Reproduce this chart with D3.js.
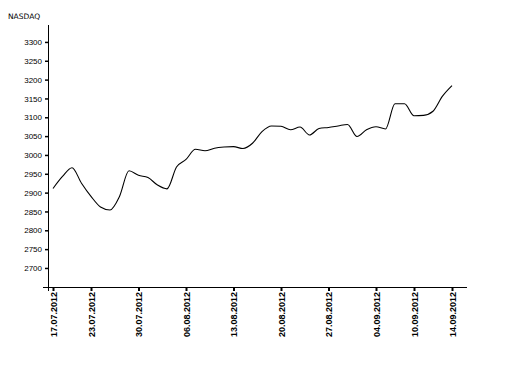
<!DOCTYPE html>
<html>
<head>
<meta charset="utf-8">
<script src="https://cdn.jsdelivr.net/npm/d3@7"></script>
<style>
    body { margin: 0; background: #fff; }
    svg { display: block; font-family: "DejaVu Sans", "Liberation Sans", sans-serif; }
    .axis text { font-size: 8px; fill: #000; }
    .x.axis text { font-family: "Liberation Sans", sans-serif; font-size: 9px; font-weight: bold; }
</style>
</head>
<body>
<script>
// trading days shown on the chart (x axis is by trading day, not calendar day)
const days = ["17.07.2012", "18.07.2012", "19.07.2012", "20.07.2012",
    "23.07.2012", "24.07.2012", "25.07.2012", "26.07.2012", "27.07.2012",
    "30.07.2012", "31.07.2012", "01.08.2012", "02.08.2012", "03.08.2012",
    "06.08.2012", "07.08.2012", "08.08.2012", "09.08.2012", "10.08.2012",
    "13.08.2012", "14.08.2012", "15.08.2012", "16.08.2012", "17.08.2012",
    "20.08.2012", "21.08.2012", "22.08.2012", "23.08.2012", "24.08.2012",
    "27.08.2012", "28.08.2012", "29.08.2012", "30.08.2012", "31.08.2012",
    "04.09.2012", "05.09.2012", "06.09.2012", "07.09.2012",
    "10.09.2012", "11.09.2012", "12.09.2012", "13.09.2012", "14.09.2012"];

const closes = [2911, 2943, 2966, 2925,
    2890, 2862, 2854, 2890, 2958,
    2946, 2940, 2920, 2910, 2968,
    2988, 3015, 3011, 3018, 3021,
    3022, 3017, 3031, 3062, 3077,
    3076, 3067, 3074, 3053, 3070,
    3073, 3077, 3081, 3049, 3067,
    3075, 3069, 3136, 3136,
    3104, 3105, 3116, 3156, 3184];

const xTickLabels = ["17.07.2012", "23.07.2012", "30.07.2012", "06.08.2012", "13.08.2012",
    "20.08.2012", "27.08.2012", "04.09.2012", "10.09.2012", "14.09.2012"];
const yTicks = [2700, 2750, 2800, 2850, 2900, 2950, 3000, 3050, 3100, 3150, 3200, 3250, 3300];

const width = 519, height = 371;

let svg = d3.select("body").append("svg")
    .attr("width", width)
    .attr("height", height);

let xScale = d3.scalePoint()
    .domain(days)
    .range([53, 452]);

let yScale = d3.scaleLinear()
    .domain([2650, 3350])
    .range([286.8, 23.1]);

// title top left
svg.append("text")
    .attr("x", 8)
    .attr("y", 19)
    .style("font-size", "7.5px")
    .text("NASDAQ");

// y axis, domain line drawn by hand so it can run past the x axis
let yAxis = svg.append("g")
    .attr("class", "y axis")
    .attr("transform", "translate(48,0)")
    .call(d3.axisLeft(yScale).tickValues(yTicks).tickFormat(d3.format("d")).tickSize(3).tickPadding(3));
yAxis.select(".domain").remove();
yAxis.selectAll(".tick line").attr("stroke", "#000").attr("stroke-width", 1.5);

svg.append("line")
    .attr("x1", 48.5).attr("x2", 48.5)
    .attr("y1", 25).attr("y2", 291)
    .attr("stroke", "#000");

// x axis
let xAxis = svg.append("g")
    .attr("class", "x axis")
    .attr("transform", "translate(0,287)")
    .call(d3.axisBottom(xScale).tickValues(xTickLabels).tickSize(4).tickPadding(2));
xAxis.select(".domain").remove();
xAxis.selectAll(".tick line").attr("stroke", "#000").attr("stroke-width", 2);
xAxis.selectAll(".tick text")
    .attr("text-anchor", "end")
    .attr("transform", "rotate(-90)")
    .attr("x", -5)
    .attr("y", 0)
    .attr("dy", "0.35em");

svg.append("line")
    .attr("x1", 43).attr("x2", 467)
    .attr("y1", 287.5).attr("y2", 287.5)
    .attr("stroke", "#000");

// the index line, smoothed between the daily closes
let line = d3.line()
    .x((d, i) => xScale(days[i]))
    .y(d => yScale(d))
    .curve(d3.curveMonotoneX);

svg.append("path")
    .datum(closes)
    .attr("fill", "none")
    .attr("stroke", "#000")
    .attr("stroke-width", 1.1)
    .attr("d", line);
</script>
</body>
</html>
